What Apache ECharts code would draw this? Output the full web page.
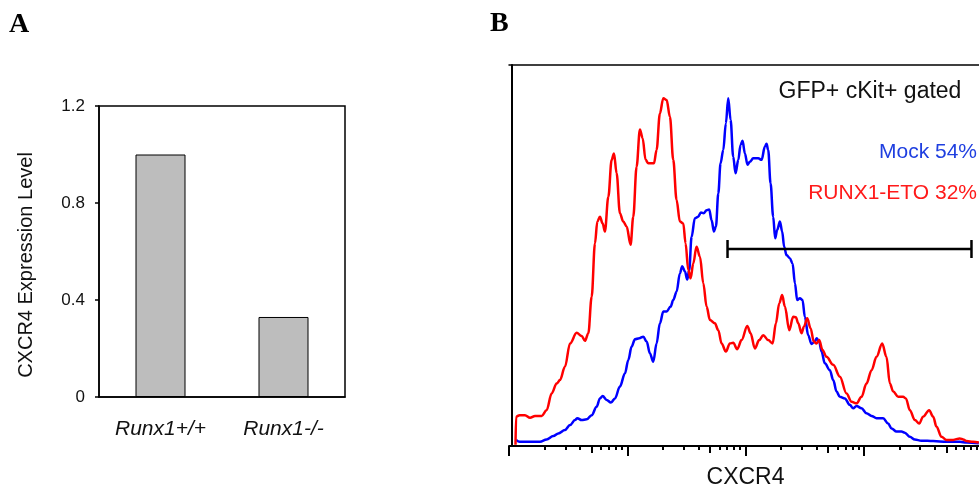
<!DOCTYPE html>
<html>
<head>
<meta charset="utf-8">
<script src="https://cdn.jsdelivr.net/npm/echarts@6/dist/echarts.min.js"></script>
<style>
  html, body { margin: 0; padding: 0; background: #fff; }
  #main { width: 979px; height: 488px; }
</style>
</head>
<body>
<div id="main"></div>
<script>
// panel A: qPCR bars
var categories = ['Runx1+/+', 'Runx1-/-'];
var expression = [1.0, 0.33];

// panel B: histograms, x = log10(CXCR4), y = % of max
var mockCurve = [
  [0.06, 1.6], [0.09, 1.1], [0.262, 1.1], [0.318, 1.7], [0.375, 2.6], [0.417, 3.3], [0.473, 4.2],
  [0.516, 5.5], [0.558, 6.8], [0.578, 7.3], [0.614, 6.8], [0.657, 7.0], [0.699, 8.1], [0.741, 10.3],
  [0.769, 12.5], [0.792, 13.1], [0.826, 12.1], [0.862, 11.4], [0.896, 12.5], [0.938, 15.6],
  [0.981, 19.1], [1.009, 22.6], [1.037, 26.1], [1.065, 28.0], [1.102, 28.3], [1.136, 28.7],
  [1.164, 27.4], [1.192, 24.3], [1.22, 22.1], [1.248, 26.9], [1.276, 32.2], [1.305, 35.3],
  [1.333, 35.3], [1.367, 36.6], [1.389, 38.3], [1.417, 40.5], [1.445, 45.3], [1.465, 47.2],
  [1.488, 45.8], [1.507, 43.7], [1.524, 46.2], [1.544, 54.9], [1.572, 59.8], [1.6, 60.2],
  [1.623, 61.3], [1.648, 61.1], [1.671, 61.9], [1.693, 62.1], [1.713, 59.3], [1.733, 56.3],
  [1.75, 57.6], [1.77, 66.3], [1.789, 74.2], [1.812, 77.7], [1.834, 84.7], [1.854, 91.3],
  [1.874, 85.6], [1.896, 75.9], [1.916, 71.6], [1.939, 75.1], [1.958, 79.0], [1.975, 80.1],
  [1.995, 76.8], [2.017, 73.8], [2.037, 74.6], [2.065, 75.5], [2.108, 75.5], [2.136, 75.1],
  [2.164, 78.6], [2.178, 79.3], [2.192, 77.7], [2.212, 68.9], [2.234, 60.2], [2.251, 54.5],
  [2.268, 56.7], [2.291, 58.9], [2.31, 56.3], [2.327, 52.3], [2.347, 50.1], [2.375, 49.3],
  [2.398, 47.9], [2.418, 42.7], [2.437, 38.3], [2.46, 38.8], [2.482, 38.3], [2.502, 33.9],
  [2.53, 29.1], [2.558, 26.8], [2.587, 27.4], [2.601, 28.3], [2.623, 27.4], [2.643, 24.8],
  [2.671, 21.7], [2.713, 19.9], [2.742, 17.3], [2.77, 14.3], [2.798, 12.9], [2.84, 12.5],
  [2.882, 10.8], [2.911, 9.9], [2.939, 10.5], [2.981, 9.9], [3.023, 8.6], [3.066, 7.9],
  [3.108, 7.3], [3.164, 7.3], [3.206, 5.9], [3.235, 4.6], [3.277, 3.8], [3.319, 3.8],
  [3.347, 3.5], [3.39, 2.4], [3.432, 1.7], [3.488, 1.4], [3.587, 1.3], [3.7, 1.1],
  [3.812, 1.1], [3.869, 0.9], [3.973, 0.7]
];
var etoCurve = [
  [0.055, 0.3], [0.06, 7.7], [0.09, 8.1], [0.135, 8.1], [0.178, 7.4], [0.22, 7.9], [0.276, 7.9],
  [0.318, 9.4], [0.361, 13.8], [0.403, 16.4], [0.431, 17.3], [0.473, 20.8], [0.516, 26.9],
  [0.572, 29.7], [0.614, 28.9], [0.642, 27.6], [0.671, 29.6], [0.699, 39.2], [0.727, 53.2],
  [0.747, 58.9], [0.769, 60.2], [0.792, 58.4], [0.811, 56.3], [0.84, 65.4], [0.868, 75.1],
  [0.888, 76.8], [0.91, 71.6], [0.938, 61.1], [0.966, 58.9], [0.995, 57.6], [1.028, 52.8],
  [1.051, 60.2], [1.079, 73.3], [1.107, 83.1], [1.13, 80.8], [1.155, 75.1], [1.178, 74.2],
  [1.226, 74.2], [1.248, 77.7], [1.276, 87.3], [1.305, 91.3], [1.333, 90.8], [1.361, 86.4],
  [1.389, 75.1], [1.417, 64.6], [1.445, 58.9], [1.474, 58.4], [1.493, 53.2], [1.516, 46.2],
  [1.536, 44.0], [1.558, 47.9], [1.586, 52.3], [1.615, 49.7], [1.643, 42.7], [1.671, 36.6],
  [1.699, 33.1], [1.741, 32.2], [1.77, 30.4], [1.798, 26.9], [1.834, 24.8], [1.868, 26.9],
  [1.896, 27.1], [1.93, 25.4], [1.967, 27.8], [2.015, 31.5], [2.043, 29.6], [2.079, 25.6],
  [2.116, 27.8], [2.15, 29.1], [2.192, 27.8], [2.229, 26.9], [2.257, 32.2], [2.285, 37.4],
  [2.31, 39.6], [2.333, 36.6], [2.37, 30.4], [2.403, 33.9], [2.426, 33.8], [2.446, 32.2],
  [2.474, 29.6], [2.494, 31.3], [2.522, 33.5], [2.55, 30.9], [2.578, 27.4], [2.601, 26.9],
  [2.623, 27.8], [2.651, 25.2], [2.685, 23.4], [2.742, 21.3], [2.798, 18.2], [2.854, 13.8],
  [2.897, 11.6], [2.939, 11.2], [2.981, 12.9], [3.023, 16.4], [3.066, 19.9], [3.108, 23.4],
  [3.156, 26.9], [3.192, 23.4], [3.221, 16.4], [3.249, 14.3], [3.291, 12.9], [3.333, 12.9],
  [3.356, 12.5], [3.39, 9.4], [3.432, 6.8], [3.469, 5.9], [3.502, 7.7], [3.553, 9.4],
  [3.587, 7.7], [3.615, 5.1], [3.657, 2.4], [3.7, 1.6], [3.756, 1.6], [3.812, 2.0],
  [3.841, 1.7], [3.869, 1.3], [3.925, 1.1], [3.973, 0.9]
];
// gate marker (log10 start/end, height)
var gate = [[1.848, 51.7], [3.911, 51.7]];

// log axis ticks
var decades = [0, 1, 2, 3, 4];
var midMultipliers = [5];
var minorMultipliers = [2, 3, 4, 6, 7, 8, 9];

function logTicks(mults) {
  var out = [];
  decades.slice(0, -1).forEach(function (d) {
    mults.forEach(function (m) { out.push(d + Math.log10(m)); });
  });
  return out;
}

var sans = "'Liberation Sans', Arial, sans-serif";
var serif = "'Liberation Serif', 'Times New Roman', serif";

var chart = echarts.init(document.getElementById('main'));

function logAxis(ticks, len, showLine) {
  return {
    type: 'value', gridIndex: 1, position: 'bottom', min: 0, max: 4,
    axisLine: { show: showLine, lineStyle: { color: '#000', width: 2 } },
    axisTick: { show: true, customValues: ticks, length: len, lineStyle: { color: '#000', width: 2 } },
    axisLabel: { show: false },
    splitLine: { show: false }
  };
}

var xMajor = logAxis(decades, 10, true);
xMajor.name = 'CXCR4';
xMajor.nameLocation = 'middle';
xMajor.nameGap = 20;
xMajor.nameTextStyle = { fontFamily: sans, fontSize: 23, color: '#111' };

chart.setOption({
  animation: false,
  grid: [
    { left: 99, right: 634, top: 106, bottom: 91, outerBoundsMode: 'none',
      show: true, borderColor: '#000', borderWidth: 1.5 },
    { left: 509, right: -3, top: 65, bottom: 42, outerBoundsMode: 'none' }
  ],
  xAxis: [
    {
      type: 'category', gridIndex: 0, data: categories,
      axisLine: { lineStyle: { color: '#000', width: 1.5 } },
      axisTick: { length: 7, lineStyle: { color: '#000', width: 1.5 } },
      axisLabel: { fontFamily: sans, fontStyle: 'italic', fontSize: 21, color: '#111', margin: 22 }
    },
    xMajor,
    logAxis(logTicks(midMultipliers), 7, false),
    logAxis(logTicks(minorMultipliers), 4, false),
    {
      type: 'value', gridIndex: 1, position: 'top', min: 0, max: 4,
      axisLine: { show: true, lineStyle: { color: '#000', width: 1.5 } },
      axisTick: { show: false }, axisLabel: { show: false }, splitLine: { show: false }
    }
  ],
  yAxis: [
    {
      type: 'value', gridIndex: 0, min: 0, max: 1.2, interval: 0.4,
      axisLine: { show: true, lineStyle: { color: '#000', width: 1.5 } },
      axisTick: { show: true, length: 4, lineStyle: { color: '#000', width: 1.5 } },
      axisLabel: { fontFamily: sans, fontSize: 17, color: '#111', margin: 14 },
      splitLine: { show: false }
    },
    {
      type: 'value', gridIndex: 1, min: 0, max: 100, offset: -3,
      axisLine: { show: true, lineStyle: { color: '#000', width: 2 } },
      axisTick: { show: false }, axisLabel: { show: false }, splitLine: { show: false }
    }
  ],
  series: [
    {
      type: 'bar', xAxisIndex: 0, yAxisIndex: 0, data: expression, barWidth: 50,
      itemStyle: { color: '#bdbdbd', borderColor: '#000', borderWidth: 1 }
    },
    {
      name: 'Mock', type: 'line', xAxisIndex: 1, yAxisIndex: 1, data: mockCurve,
      smooth: 0.35, smoothMonotone: 'x', showSymbol: false, z: 2,
      lineStyle: { color: '#0000ff', width: 2.5 }
    },
    {
      name: 'RUNX1-ETO', type: 'line', xAxisIndex: 1, yAxisIndex: 1, data: etoCurve,
      smooth: 0.35, smoothMonotone: 'x', showSymbol: false, z: 3,
      lineStyle: { color: '#ff0000', width: 2.5 }
    },
    {
      type: 'line', xAxisIndex: 1, yAxisIndex: 1, data: gate, z: 4,
      symbol: 'rect', symbolSize: [2.5, 18], showSymbol: true,
      itemStyle: { color: '#000' },
      lineStyle: { color: '#000', width: 2.5 }
    }
  ],
  graphic: [
    { type: 'text', x: 9, y: 25, style: { text: 'A', font: 'bold 28px ' + serif, fill: '#000', align: 'left', verticalAlign: 'middle' } },
    { type: 'text', x: 490, y: 24, style: { text: 'B', font: 'bold 28px ' + serif, fill: '#000', align: 'left', verticalAlign: 'middle' } },
    { type: 'text', x: 26, y: 265, rotation: Math.PI / 2, style: { text: 'CXCR4 Expression Level', font: '20px ' + sans, fill: '#111', align: 'center', verticalAlign: 'middle' } },
    { type: 'text', x: 870, y: 92, style: { text: 'GFP+ cKit+ gated', font: '23px ' + sans, fill: '#111', align: 'center', verticalAlign: 'middle' } },
    { type: 'text', x: 977, y: 152, style: { text: 'Mock 54%', font: '21px ' + sans, fill: '#1f3fe0', align: 'right', verticalAlign: 'middle' } },
    { type: 'text', x: 977, y: 193, style: { text: 'RUNX1-ETO 32%', font: '21px ' + sans, fill: '#ff1a1a', align: 'right', verticalAlign: 'middle' } }
  ]
});
</script>
</body>
</html>
